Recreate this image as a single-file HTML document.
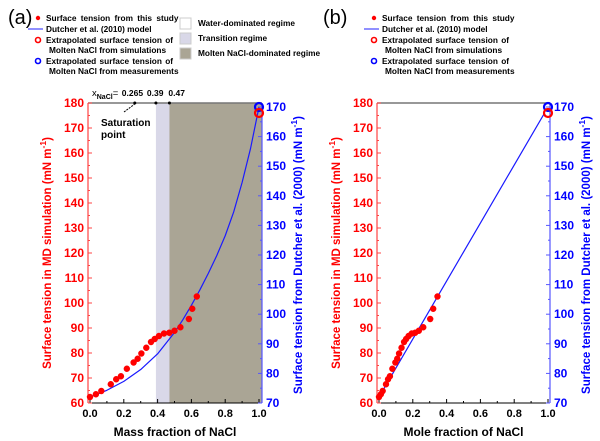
<!DOCTYPE html>
<html><head><meta charset="utf-8"><style>
body{margin:0;background:#fff}
svg{display:block;font-family:"Liberation Sans",Arial,sans-serif;font-weight:bold}
</style></head><body>
<svg id="c" width="600" height="441" viewBox="0 0 600 441" xmlns="http://www.w3.org/2000/svg">
<g id="legends">
<text x="8" y="24" font-size="20" font-weight="normal">(a)</text>
<text x="323" y="24" font-size="20" font-weight="normal">(b)</text>
</g>
</svg>
<script>
// ---- data ----
const massFrac = [0,0.035,0.067,0.123,0.155,0.183,0.218,0.258,0.282,0.304,0.333,0.361,0.383,0.408,0.438,0.469,0.5,0.535,0.585,0.605,0.632];
const moleFrac = [0,0.011,0.0217,0.0414,0.0535,0.0646,0.0791,0.0968,0.108,0.1187,0.1334,0.1483,0.1606,0.1753,0.1937,0.214,0.2357,0.2618,0.303,0.3207,0.3461];
const mdTension = [62.4,63.5,64.8,67.5,69.5,70.7,73.7,76.2,77.7,79.8,82.1,84.4,85.6,86.8,87.8,88.1,88.9,90.3,93.6,97.7,102.6];
const dutcherMassX = [0,0.1,0.2,0.3,0.4,0.5,0.55,0.6,0.65,0.7,0.75,0.8,0.85,0.9,0.95,1.0];
const dutcherMassY = [72,74.3,77.3,81.3,86.6,93.8,98.2,103,108.2,113.8,119.8,126.5,134.5,144.5,156,170];
const dutcherMoleX = [0,0.1,0.2,0.3,0.4,0.5,0.6,0.8,0.98];
const dutcherMoleY = [72,81.8,91.6,101.4,111.2,121,130.8,150.4,168];
const extrapSim = [1.0,176];
const extrapMeas = [1.0,170];
const regimeBounds = [0,0.39,0.47,1.0];
const xTicks = [0,0.2,0.4,0.6,0.8,1.0];
const xTickLabels = ["0.0","0.2","0.4","0.6","0.8","1.0"];
const yLeftTicks = [60,70,80,90,100,110,120,130,140,150,160,170,180];
const yRightTicks = [70,80,90,100,110,120,130,140,150,160,170];
const topMarks = [0.265,0.39,0.47];
const topMarkLabels = ["0.265","0.39","0.47"];

const NS="http://www.w3.org/2000/svg";
const svg=document.getElementById('c');
function mk(tag,attrs,parent,text){const e=document.createElementNS(NS,tag);for(const k in attrs)e.setAttribute(k,attrs[k]);if(text!==undefined)e.textContent=text;(parent||svg).appendChild(e);return e;}

function panel(id,x0,x1,fL,fR,xs,dX,dY,title,regions){
  const sx=v=>x0+v*(x1-x0);
  const yL=v=>403-(v-60)*2.5;
  const yR=v=>403-(v-70)*2.96;
  const g=mk('g',{});
  
  
  if(regions){
    const cols=['#ffffff','#d9d8e8','#aaa595'];
    for(let i=0;i<3;i++){
      const r=mk('rect',{x:sx(regimeBounds[i]),y:103,width:(i==2?fR:sx(regimeBounds[i+1]))-sx(regimeBounds[i]),height:300,fill:cols[i]},g);
      
      
    }
  }
  mk('line',{x1:fL,y1:103,x2:fR,y2:103,stroke:'#777',"stroke-width":1.5},g);
  mk('line',{x1:fL,y1:403,x2:fR,y2:403,stroke:'#000',"stroke-width":1},g);
  mk('line',{x1:fL,y1:103,x2:fL,y2:403,stroke:'#f44',"stroke-width":1.2},g);
  mk('line',{x1:fR,y1:103,x2:fR,y2:403,stroke:'#55f',"stroke-width":1.2},g);
  xTicks.forEach((t,i)=>{
    mk('line',{x1:sx(t),y1:403,x2:sx(t),y2:399,stroke:'#000'},g);
    if(t<1) mk('line',{x1:sx(t+0.1),y1:403,x2:sx(t+0.1),y2:401,stroke:'#000'},g);
    const l=mk('text',{x:sx(t),y:417,"font-size":11,"text-anchor":"middle"},g,xTickLabels[i]);
    
    
  });
  yLeftTicks.forEach(t=>{
    mk('line',{x1:fL,y1:yL(t),x2:fL+4,y2:yL(t),stroke:'#f44'},g);
    if(t<180) mk('line',{x1:fL,y1:yL(t)-12.5,x2:fL+2,y2:yL(t)-12.5,stroke:'#f44'},g);
    const l=mk('text',{x:fL-4,y:yL(t)+4,"font-size":12,"text-anchor":"end",fill:'#f00'},g,t);
    
    
  });
  yRightTicks.forEach(t=>{
    mk('line',{x1:fR,y1:yR(t),x2:fR-4,y2:yR(t),stroke:'#55f'},g);
    if(t<170) mk('line',{x1:fR,y1:yR(t)-14.8,x2:fR-2,y2:yR(t)-14.8,stroke:'#55f'},g);
    const l=mk('text',{x:fR+4,y:yR(t)+4,"font-size":12,fill:'#00f'},g,t);
    
    
  });
  const pts=dX.map((v,i)=>sx(v)+','+yR(dY[i])).join(' ');
  const pl=mk('polyline',{points:pts,fill:'none',stroke:'#1a1aff',"stroke-width":1.2,"stroke-linejoin":"round"},g);
  
  
  xs.forEach((v,i)=>{
    const c=mk('circle',{cx:sx(v),cy:yL(mdTension[i]),r:3.2,fill:'#f00'},g);
    
    
  });
  const cb=mk('circle',{cx:sx(extrapMeas[0]),cy:yR(extrapMeas[1]),r:4,fill:'none',stroke:'#00f',"stroke-width":2.2},g);
  
  
  const cr=mk('circle',{cx:sx(extrapSim[0]),cy:yL(extrapSim[1]),r:4,fill:'none',stroke:'#f00',"stroke-width":2.2},g);
  
  
  const xt=mk('text',{x:(fL+fR)/2,y:436,"font-size":12,"text-anchor":"middle"},g,title);
  
  
  const lt=mk('text',{x:0,y:0,"font-size":11.5,"text-anchor":"middle",fill:'#f00',transform:`translate(${fL-37},253) rotate(-90)`},g);
  lt.innerHTML='Surface tension in MD simulation (mN m<tspan dy="-5" font-size="8.5">-1</tspan><tspan dy="5">)</tspan>';
  
  
  const rt=mk('text',{x:0,y:0,"font-size":11.5,"text-anchor":"middle",fill:'#00f',transform:`translate(${fR+40},255) rotate(-90)`},g);
  rt.innerHTML='Surface tension from Dutcher et al. (2000) (mN m<tspan dy="-5" font-size="8.5">-1</tspan><tspan dy="5">)</tspan>';
  
  
  if(regions){
    const labOff=[-13,-9,-1];
    topMarks.forEach((m,i)=>{
      const d=mk('circle',{cx:sx(m),cy:103,r:1.5,fill:'#000'},g);
      
      
      const tl=mk('text',{x:sx(m)+labOff[i],y:96,"font-size":8.5},g,topMarkLabels[i]);
      
      
    });
    const tt=mk('text',{x:92,y:96,"font-size":9.5,"font-weight":"normal"},g);
    tt.innerHTML='x<tspan dy="3" font-size="7" font-weight="bold">NaCl</tspan><tspan dy="-3">=</tspan>';
    
    
    mk('line',{x1:124,y1:112,x2:sx(0.265),y2:104,stroke:'#000',"stroke-dasharray":"2,1"},g);
    const s1=mk('text',{x:101,y:126,"font-size":10},g,'Saturation');
    
    
    mk('text',{x:101,y:138,"font-size":10},g,'point');
  }
}
panel('panel-a',90,259,88,262,massFrac,dutcherMassX,dutcherMassY,'Mass fraction of NaCl',true);
panel('panel-b',379,548,377,550,moleFrac,dutcherMoleX,dutcherMoleY,'Mole fraction of NaCl',false);

function legend(mx,tx){
  const g=mk('g',{});
  
  
  const fs=8.3;
  mk('circle',{cx:mx,cy:18,r:2.2,fill:'#f00'},g);
  mk('text',{x:tx,y:21,"font-size":fs,"word-spacing":2},g,'Surface tension from this study');
  mk('line',{x1:mx-10,y1:29,x2:tx-3,y2:29,stroke:'#22f'},g);
  mk('text',{x:tx,y:32,"font-size":fs},g,'Dutcher et al. (2010) model');
  mk('circle',{cx:mx,cy:40,r:2.5,fill:'none',stroke:'#f00',"stroke-width":1.6},g);
  mk('text',{x:tx,y:43,"font-size":fs,"word-spacing":1},g,'Extrapolated surface tension of');
  mk('text',{x:tx+3,y:53,"font-size":fs},g,'Molten NaCl from simulations');
  mk('circle',{cx:mx,cy:61,r:2.5,fill:'none',stroke:'#00f',"stroke-width":1.6},g);
  mk('text',{x:tx,y:64,"font-size":fs,"word-spacing":1},g,'Extrapolated surface tension of');
  mk('text',{x:tx+3,y:74,"font-size":fs},g,'Molten NaCl from measurements');
}
legend(38,46);
legend(374,382);
const rg=mk('g',{});


[['#fff','Water-dominated regime',18],['#d9d8e8','Transition regime',33],['#aaa595','Molten NaCl-dominated regime',48]].forEach(r=>{
  mk('rect',{x:180,y:r[2],width:11,height:11,fill:r[0],stroke:'#ccc'},rg);
  mk('text',{x:198,y:r[2]+8,"font-size":8.3},rg,r[1]);
});
</script>
</body></html>
